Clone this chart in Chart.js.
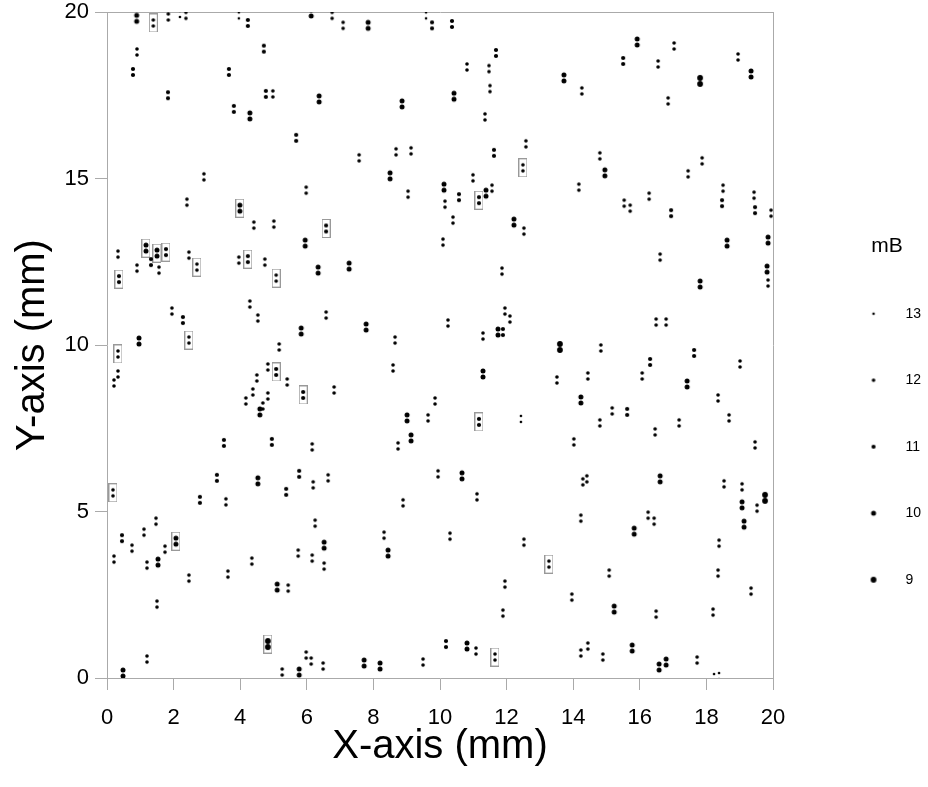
<!DOCTYPE html>
<html>
<head>
<meta charset="utf-8">
<script src="https://cdn.jsdelivr.net/npm/chart.js@4/dist/chart.umd.min.js"></script>
<style>
  html, body { margin: 0; padding: 0; background: #fff; }
</style>
</head>
<body>
<canvas id="field" width="928" height="787"></canvas>
<script>
// star positions (mm) grouped by magnitude mB
const mag9 = [[17.81, 17.93], [13.6, 9.94], [4.83, 1.02], [19.76, 5.41]];

const mag10 = [
  [0.89, 19.81], [6.13, 19.97], [6.37, 17.39], [4.29, 16.88], [3.99, 14.11],
  [7.84, 19.6], [10.42, 17.47], [8.86, 17.24], [8.5, 15.08], [10.12, 14.74], [11.38, 14.56], [12.22, 13.69],
  [13.72, 18.02], [15.92, 19.1], [19.34, 18.14], [14.95, 15.17],
  [1.17, 12.91], [1.5, 12.76], [5.95, 13.06], [6.34, 12.25], [5.83, 10.42], [0.96, 10.12], [4.59, 7.99],
  [7.27, 12.37], [7.78, 10.54], [11.74, 10.39], [11.29, 9.13], [9.01, 7.81], [9.13, 7.21],
  [18.62, 13.06], [19.85, 13.15], [19.82, 12.28], [17.81, 11.83], [17.42, 8.83], [14.23, 8.35],
  [4.53, 5.92], [6.52, 3.99], [1.53, 3.48], [2.07, 4.11], [5.11, 2.73], [0.48, 0.15], [5.77, 0.18],
  [10.66, 6.07], [8.44, 3.75], [7.72, 0.45], [8.2, 0.36], [10.81, 0.96],
  [16.61, 5.98], [19.07, 5.2], [19.13, 4.62], [15.83, 4.41], [15.23, 2.07], [15.77, 0.9], [16.58, 0.33], [16.79, 0.48]
];

const mag11 = [
  [4.23, 19.67], [0.78, 18.2], [4.71, 18.9], [3.66, 18.2], [1.83, 17.5], [4.77, 17.54], [3.81, 17.09], [5.68, 16.22], [6.58, 13.5],
  [9.76, 19.6], [10.36, 19.64], [11.68, 18.77], [11.62, 15.77], [11.17, 14.35], [10.57, 14.44],
  [15.5, 18.53], [16.94, 13.96], [18.47, 14.26], [19.46, 14.05],
  [1.77, 12.79], [1.32, 12.49], [0.36, 11.98], [4.23, 12.58], [2.28, 10.75], [5.08, 9.19], [5.89, 8.5], [3.51, 7.06], [4.95, 7.09],
  [11.89, 10.39], [11.17, 7.69],
  [17.63, 9.76], [16.31, 9.49], [15.62, 7.99],
  [3.3, 6.01], [2.79, 5.35], [5.38, 5.59], [5.77, 6.13], [0.45, 4.2],
  [10.18, 1.02]
];

const mag12 = [
  [1.39, 19.67], [1.84, 19.85], [2.37, 19.9], [0.9, 18.8], [4.98, 17.54], [2.91, 15.05], [5.98, 14.65], [2.4, 14.29], [4.41, 13.6], [5.01, 13.63],
  [6.76, 19.9], [7.09, 19.6], [10.81, 18.35], [11.47, 18.3], [11.5, 17.7], [11.35, 16.85], [12.58, 16.04], [7.57, 15.62], [8.68, 15.8],
  [9.13, 15.83], [12.49, 15.32], [10.99, 15.02], [11.56, 14.71], [9.04, 14.53], [10.15, 14.23], [10.39, 13.75], [12.52, 13.42],
  [14.26, 17.63], [17.03, 18.98], [16.55, 18.44], [16.85, 17.33], [18.95, 18.65], [14.8, 15.68], [14.17, 14.74], [15.53, 14.26],
  [15.71, 14.11], [16.28, 14.47], [17.45, 15.14], [17.87, 15.53], [18.5, 14.71], [19.43, 14.5], [19.94, 13.96],
  [0.33, 12.73], [0.9, 12.31], [1.56, 12.25], [2.46, 12.7], [2.7, 12.34], [3.96, 12.55], [4.74, 12.49], [5.08, 12.01], [1.95, 11.02],
  [4.29, 11.23], [4.53, 10.81], [6.58, 10.9], [2.46, 10.15], [0.33, 9.73], [5.17, 9.94], [0.33, 9.13], [0.21, 8.86], [4.83, 9.34],
  [5.41, 8.89], [4.5, 9.01], [4.38, 8.59], [4.17, 8.32], [4.83, 8.47], [4.68, 8.17], [6.16, 6.94],
  [10.09, 13.09], [11.86, 12.22], [8.65, 10.15], [10.24, 10.66], [11.95, 11.02], [12.1, 10.78], [11.29, 10.27], [8.59, 9.31],
  [6.82, 8.65], [9.85, 8.32], [9.64, 7.81], [8.74, 6.97],
  [16.61, 12.64], [19.85, 11.86], [16.49, 10.69], [16.79, 10.69], [14.83, 9.91], [19.01, 9.43], [13.51, 8.95], [14.44, 9.07],
  [16.07, 9.07], [18.35, 8.41], [15.17, 8.02], [18.68, 7.81], [14.8, 7.66], [17.18, 7.66], [16.46, 7.39], [14.02, 7.09], [19.46, 7.0],
  [0.18, 5.56], [3.57, 5.29], [6.19, 5.8], [6.64, 6.01], [6.25, 4.65], [6.52, 3.36], [5.74, 3.75], [6.16, 3.6], [0.21, 3.57],
  [0.75, 3.9], [1.11, 4.38], [1.47, 4.71], [1.2, 3.39], [1.74, 3.87], [2.46, 3.0], [3.63, 3.12], [4.35, 3.51], [1.5, 2.22],
  [5.44, 2.7], [1.2, 0.57], [5.26, 0.18], [5.98, 0.69], [6.13, 0.51], [6.49, 0.36],
  [8.89, 5.26], [9.94, 6.13], [11.11, 5.44], [8.32, 4.29], [10.3, 4.26], [12.52, 4.08], [13.27, 3.42], [11.95, 2.82], [11.89, 1.95],
  [9.49, 0.48], [11.08, 0.81], [11.65, 0.63],
  [14.29, 5.89], [14.41, 5.98], [18.53, 5.83], [19.07, 5.74], [19.52, 5.1], [14.23, 4.8], [16.25, 4.89], [16.43, 4.71], [18.38, 4.05],
  [18.35, 3.15], [15.08, 3.15], [13.96, 2.43], [16.49, 1.92], [18.2, 1.98], [19.34, 2.61], [14.23, 0.75], [14.44, 0.96], [14.89, 0.63],
  [17.72, 0.54]
];

const mag13 = [[2.19, 19.94], [3.96, 19.9], [9.58, 19.9], [12.43, 7.78], [18.23, 0.03], [18.38, 0.06]];

// objects marked with a box
const boxed = [
  [1.39, 19.67], [3.99, 14.11], [6.58, 13.5], [11.17, 14.35], [12.49, 15.32], [1.17, 12.91], [1.5, 12.76], [1.77, 12.79],
  [0.36, 11.98], [2.7, 12.34], [4.23, 12.58], [5.08, 12.01], [2.46, 10.15], [0.33, 9.73], [5.08, 9.19], [5.89, 8.5],
  [11.17, 7.69], [0.18, 5.56], [2.07, 4.11], [4.83, 1.02], [13.27, 3.42], [11.65, 0.63]
];

const magnitudes = [13, 12, 11, 10, 9];
const magData = {13: mag13, 12: mag12, 11: mag11, 10: mag10, 9: mag9};
const dotRadius = {13: 1.3, 12: 1.8, 11: 2.1, 10: 2.5, 9: 2.9};

// each object is drawn as two dots one above the other
function pairGlyph(r) {
  const c = document.createElement('canvas');
  const w = 2 * Math.ceil(r) + 2, h = w + 6;
  c.width = w; c.height = h;
  const g = c.getContext('2d');
  g.fillStyle = '#000';
  [h / 2 - 3, h / 2 + 3].forEach(cy => {
    g.beginPath(); g.arc(w / 2, cy, r, 0, 2 * Math.PI); g.fill();
  });
  return c;
}

// legend dot, shifted left inside a wide canvas
function legendDot(r) {
  const c = document.createElement('canvas');
  c.width = 60; c.height = 10;
  const g = c.getContext('2d');
  g.fillStyle = '#000';
  g.beginPath(); g.arc(5, 5, r, 0, 2 * Math.PI); g.fill();
  return c;
}

function boxGlyph() {
  const c = document.createElement('canvas');
  c.width = 9; c.height = 19;
  const g = c.getContext('2d');
  g.strokeStyle = '#999';
  g.lineWidth = 1;
  g.strokeRect(0.5, 0.5, 8, 18);
  return c;
}

const toXY = arr => arr.map(p => ({x: p[0], y: p[1]}));

const datasets = magnitudes.map(m => ({
  label: String(m),
  data: toXY(magData[m]),
  pointStyle: pairGlyph(dotRadius[m]),
  pointRadius: 4,
  pointHoverRadius: 4
}));
datasets.push({
  label: 'box',
  data: toXY(boxed),
  pointStyle: boxGlyph(),
  pointRadius: 6,
  pointHoverRadius: 6
});

// legend box fixed width
const legendWidth = {
  id: 'legendWidth',
  afterInit(chart) {
    const legend = chart.legend;
    const fit = legend.fit;
    legend.fit = function () {
      fit.call(this);
      this.width = 82;
    };
  }
};

const frameColor = '#aaa';
const font = 'Liberation Sans, Arial, sans-serif';

new Chart(document.getElementById('field'), {
  type: 'scatter',
  data: { datasets: datasets },
  options: {
    responsive: false,
    animation: false,
    layout: { padding: { top: 12 } },
    plugins: {
      tooltip: { enabled: false },
      legend: {
        position: 'right',
        align: 'start',
        title: {
          display: true,
          text: 'mB',
          color: '#000',
          font: { family: font, size: 21 },
          padding: { top: 224, bottom: -7 }
        },
        labels: {
          usePointStyle: true,
          boxWidth: 0.01,
          padding: 52.5,
          color: '#000',
          font: { family: font, size: 14 },
          generateLabels: chart => magnitudes.map((m, i) => ({
            text: String(m),
            pointStyle: legendDot(dotRadius[m]),
            fillStyle: '#000',
            strokeStyle: '#000',
            lineWidth: 0,
            fontColor: '#000',
            hidden: false,
            datasetIndex: i
          }))
        }
      }
    },
    scales: {
      x: {
        type: 'linear',
        min: 0,
        max: 20,
        ticks: { stepSize: 2, color: '#000', padding: 15, font: { family: font, size: 22 } },
        grid: { drawOnChartArea: false, tickLength: 12, color: frameColor },
        border: { color: frameColor },
        title: { display: true, text: 'X-axis (mm)', color: '#000', font: { family: font, size: 40 }, padding: { top: 0, bottom: 16 } },
        afterFit: s => { s.height = 109; s.paddingLeft = 0; s.paddingRight = 0; }
      },
      y: {
        type: 'linear',
        min: 0,
        max: 20,
        ticks: { stepSize: 5, color: '#000', padding: 6, font: { family: font, size: 22 } },
        grid: { drawOnChartArea: false, tickLength: 12, color: frameColor },
        border: { color: frameColor },
        title: { display: true, text: 'Y-axis (mm)', color: '#000', font: { family: font, size: 40 }, padding: { top: 9, bottom: 0 } },
        afterFit: s => { s.width = 107; s.paddingTop = 0; s.paddingBottom = 0; }
      },
      xTop: {
        type: 'linear',
        position: 'top',
        min: 0,
        max: 20,
        ticks: { display: false },
        grid: { display: false },
        border: { color: frameColor },
        afterFit: s => { s.height = 0; }
      },
      yRight: {
        type: 'linear',
        position: 'right',
        min: 0,
        max: 20,
        ticks: { display: false },
        grid: { display: false },
        border: { color: frameColor },
        afterFit: s => { s.width = 73; s.paddingTop = 0; s.paddingBottom = 0; }
      }
    }
  },
  plugins: [legendWidth]
});
</script>
</body>
</html>
